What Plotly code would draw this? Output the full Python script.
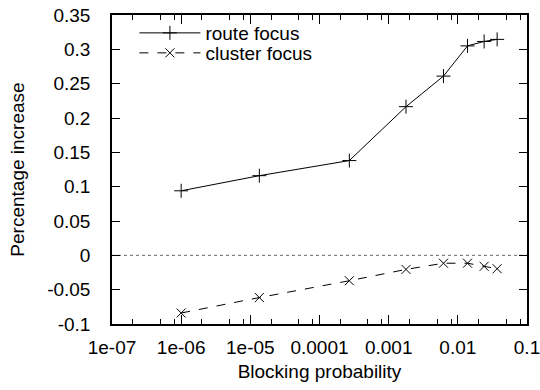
import plotly.graph_objects as go

blocking_prob = [1.0e-6, 1.35e-5, 2.7e-4, 1.78e-3, 6.2e-3, 1.38e-2, 2.4e-2, 3.7e-2]
route_focus = [0.094, 0.116, 0.138, 0.2165, 0.261, 0.305, 0.3115, 0.3145]
cluster_focus = [-0.084, -0.0615, -0.037, -0.0205, -0.0115, -0.0115, -0.016, -0.0195]

x_tick_vals = [1e-7, 1e-6, 1e-5, 1e-4, 1e-3, 1e-2, 1e-1]
x_tick_text = ["1e-07", "1e-06", "1e-05", "0.0001", "0.001", "0.01", "0.1"]
x_minor_vals = [m * d for d in [1e-7, 1e-6, 1e-5, 1e-4, 1e-3, 1e-2] for m in (2, 5, 8)]
y_tick_vals = [-0.1, -0.05, 0, 0.05, 0.1, 0.15, 0.2, 0.25, 0.3, 0.35]
y_tick_text = ["-0.1", "-0.05", "0", "0.05", "0.1", "0.15", "0.2", "0.25", "0.3", "0.35"]

FONT = "Liberation Sans, Arial, sans-serif"
FS = 19

fig = go.Figure()
fig.add_trace(go.Scatter(
    x=blocking_prob, y=route_focus, name="route focus", mode="lines+markers",
    line=dict(color="black", width=1), legend="legend",
    marker=dict(symbol="cross-thin-open", size=10, line=dict(color="black", width=1)),
))
fig.add_trace(go.Scatter(
    x=blocking_prob, y=cluster_focus, name="cluster focus", mode="lines+markers",
    line=dict(color="black", width=1, dash="dash"), legend="legend2",
    marker=dict(symbol="x-thin-open", size=9, line=dict(color="black", width=1)),
))

fig.add_shape(type="line", xref="paper", x0=0, x1=1, yref="y", y0=0, y1=0,
              line=dict(color="#666666", width=1, dash="dot"), layer="below")

legend_common = dict(xanchor="left", yanchor="middle", bgcolor="rgba(0,0,0,0)",
                     font=dict(size=FS), itemwidth=61)

fig.update_layout(
    width=540, height=390,
    margin=dict(l=112, r=13, t=15, b=66, autoexpand=False),
    paper_bgcolor="white", plot_bgcolor="white",
    font=dict(family=FONT, size=FS, color="black"),
    showlegend=True,
    legend=dict(x=0.054, y=0.9417, **legend_common),
    legend2=dict(x=0.054, y=0.877, **legend_common),
    xaxis=dict(
        type="log", range=[-7, -1], automargin=False, ticklabeloverflow="allow",
        tickmode="array", tickvals=x_tick_vals, ticktext=x_tick_text,
        ticks="inside", ticklen=9, tickwidth=1, tickcolor="black",
        showline=True, linecolor="black", linewidth=1.5, mirror="ticks",
        showgrid=False, zeroline=False, ticklabelstandoff=5,
        minor=dict(tickmode="array", tickvals=x_minor_vals, ticks="inside",
                   ticklen=5, tickwidth=1, tickcolor="black", showgrid=False),
        title=dict(text="Blocking probability", standoff=8, font=dict(size=FS)),
    ),
    yaxis=dict(
        range=[-0.1, 0.35], automargin=False, ticklabeloverflow="allow",
        tickmode="array", tickvals=y_tick_vals, ticktext=y_tick_text,
        ticks="inside", ticklen=8, tickwidth=1, tickcolor="black",
        showline=True, linecolor="black", linewidth=1.5, mirror="ticks",
        showgrid=False, zeroline=False, ticklabelstandoff=16,
        title=dict(text="Percentage increase", standoff=17, font=dict(size=FS)),
    ),
)

fig.write_html("out.html", config={"displayModeBar": False},
               post_script="document.body.style.margin='0px';")
